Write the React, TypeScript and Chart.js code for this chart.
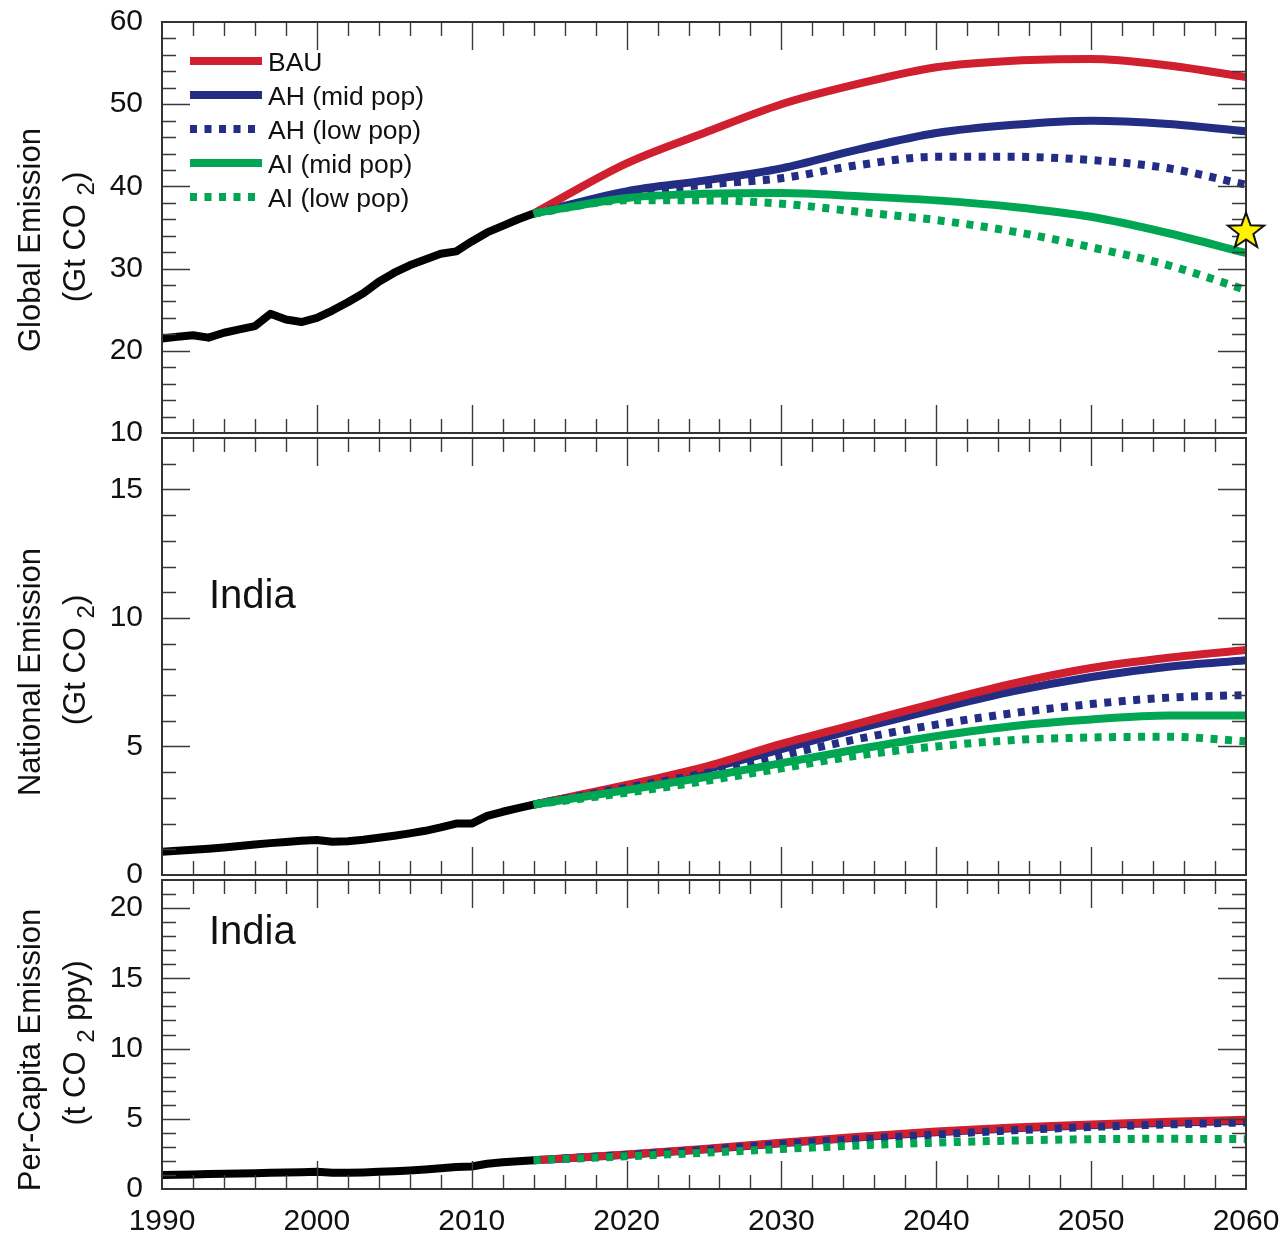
import React, { useEffect, useRef } from "react";
import { Chart, registerables } from "chart.js";
Chart.register(...registerables);

const FONT = '"Liberation Sans", Arial, Helvetica, sans-serif';

// ---------- DATA ----------
const histYears = [1990, 1991, 1992, 1993, 1994, 1995, 1996, 1997, 1998, 1999, 2000, 2001, 2002, 2003, 2004, 2005, 2006, 2007, 2008, 2009, 2010, 2011, 2012, 2013, 2014];
const globalHist = [21.5, 21.7, 21.9, 21.6, 22.2, 22.6, 23.0, 24.5, 23.8, 23.5, 24.0, 24.9, 25.9, 27.0, 28.4, 29.5, 30.4, 31.1, 31.8, 32.1, 33.3, 34.4, 35.2, 36.0, 36.7];
const indiaHist = [0.9, 0.94, 0.98, 1.02, 1.07, 1.13, 1.19, 1.24, 1.28, 1.33, 1.36, 1.29, 1.31, 1.37, 1.45, 1.53, 1.62, 1.72, 1.85, 2.0, 2.0, 2.3, 2.46, 2.6, 2.74];
const perCapHist = [1.0, 1.02, 1.04, 1.06, 1.08, 1.1, 1.13, 1.15, 1.17, 1.2, 1.22, 1.15, 1.15, 1.18, 1.22, 1.27, 1.32, 1.39, 1.47, 1.57, 1.6, 1.8, 1.9, 1.98, 2.05];

const projYears = [2014, 2020, 2025, 2030, 2035, 2040, 2045, 2050, 2055, 2060];

const globalBAU = [36.7, 42.8, 46.5, 50.0, 52.5, 54.5, 55.3, 55.5, 54.7, 53.3];
const globalAHmid = [36.7, 39.4, 40.7, 42.2, 44.5, 46.5, 47.5, 48.0, 47.6, 46.7];
const globalAHlow = [36.7, 39.1, 40.2, 41.0, 42.6, 43.6, 43.6, 43.2, 42.2, 40.2];
const globalAImid = [36.7, 38.6, 39.1, 39.2, 38.8, 38.3, 37.5, 36.3, 34.3, 31.9];
const globalAIlow = [36.7, 38.3, 38.3, 37.9, 36.9, 35.9, 34.5, 32.6, 30.4, 27.4];

const indiaBAU = [2.74, 3.5, 4.2, 5.1, 5.9, 6.7, 7.45, 8.05, 8.45, 8.75];
const indiaAHmid = [2.74, 3.45, 4.1, 4.9, 5.7, 6.45, 7.15, 7.7, 8.1, 8.35];
const indiaAHlow = [2.74, 3.4, 3.95, 4.65, 5.3, 5.85, 6.3, 6.65, 6.9, 7.0];
const indiaAImid = [2.74, 3.3, 3.8, 4.35, 4.9, 5.4, 5.8, 6.05, 6.2, 6.2];
const indiaAIlow = [2.74, 3.2, 3.65, 4.15, 4.65, 5.0, 5.25, 5.35, 5.38, 5.2];

// per-capita: the mid-pop curves are hidden under the low-pop / BAU curves in the picture
const perCapBAU = [2.05, 2.45, 2.85, 3.3, 3.72, 4.1, 4.38, 4.6, 4.78, 4.93];
const perCapAHmid = [2.05, 2.44, 2.82, 3.26, 3.67, 4.04, 4.32, 4.54, 4.71, 4.85];
const perCapAHlow = [2.05, 2.42, 2.78, 3.2, 3.55, 3.88, 4.18, 4.42, 4.6, 4.74];
const perCapAIlow = [2.05, 2.33, 2.58, 2.85, 3.1, 3.3, 3.45, 3.55, 3.57, 3.55];

const seriesNames = ["BAU", "AH (mid pop)", "AH (low pop)", "AI (mid pop)", "AI (low pop)"];
const seriesColors = ["#d01f2e", "#232d84", "#232d84", "#00a651", "#00a651"];
const seriesDashed = [false, false, true, false, true];
const seriesOrder = [5, 6, 4, 3, 2];

const xTicks = [1990, 2000, 2010, 2020, 2030, 2040, 2050, 2060];
const globalTicks = [10, 20, 30, 40, 50, 60];
const nationalTicks = [0, 5, 10, 15];
const perCapTicks = [0, 5, 10, 15, 20];

const starYear = 2060;
const starValue = 34.5;
const regionLabel = "India";

// ---------- LAYOUT ----------
const W = 1282;
const H = 1237;

type Part = { t: string; sub?: boolean };
type PanelCfg = {
  hist: number[];
  proj: (number[] | null)[];
  yMin: number;
  yMax: number;
  yTicks: number[];
  yMinor: number;
  yMajor: number;
  top: number;
  bottom: number;
  showX: boolean;
  legend: boolean;
  region: boolean;
  regionY: number;
  star: boolean;
  title1: string;
  title2: Part[];
  t1y: number;
  t2y: number;
};

const panels: PanelCfg[] = [
  {
    hist: globalHist,
    proj: [globalBAU, globalAHmid, globalAHlow, globalAImid, globalAIlow],
    yMin: 10, yMax: 60, yTicks: globalTicks, yMinor: 2, yMajor: 10,
    top: 22, bottom: 433, showX: false, legend: true, region: false, regionY: 0, star: true,
    title1: "Global Emission",
    title2: [{ t: "(Gt CO " }, { t: "2", sub: true }, { t: ")" }],
    t1y: 240, t2y: 237,
  },
  {
    hist: indiaHist,
    proj: [indiaBAU, indiaAHmid, indiaAHlow, indiaAImid, indiaAIlow],
    yMin: 0, yMax: 17, yTicks: nationalTicks, yMinor: 1, yMajor: 5,
    top: 438, bottom: 875, showX: false, legend: false, region: true, regionY: 608, star: false,
    title1: "National Emission",
    title2: [{ t: "(Gt CO " }, { t: "2", sub: true }, { t: ")" }],
    t1y: 672, t2y: 660,
  },
  {
    hist: perCapHist,
    proj: [perCapBAU, perCapAHmid, perCapAHlow, null, perCapAIlow],
    yMin: 0, yMax: 22, yTicks: perCapTicks, yMinor: 1, yMajor: 5,
    top: 880, bottom: 1189, showX: true, legend: false, region: true, regionY: 944, star: false,
    title1: "Per-Capita Emission",
    title2: [{ t: "(t CO " }, { t: "2", sub: true }, { t: " ppy)" }],
    t1y: 1050, t2y: 1043,
  },
];

function drawStar(ctx: CanvasRenderingContext2D, cx: number, cy: number, ro: number, ri: number) {
  ctx.beginPath();
  for (let i = 0; i < 10; i++) {
    const r = i % 2 === 0 ? ro : ri;
    const a = -Math.PI / 2 + (i * Math.PI) / 5;
    const px = cx + r * Math.cos(a);
    const py = cy + r * Math.sin(a);
    if (i === 0) ctx.moveTo(px, py);
    else ctx.lineTo(px, py);
  }
  ctx.closePath();
}

function makePlugin(cfg: PanelCfg) {
  return {
    id: "decor",
    afterDatasetsDraw(chart: any) {
      const { ctx, chartArea: a, scales } = chart;
      const x = scales.x;
      const y = scales.y;
      ctx.save();
      // ticks
      ctx.strokeStyle = "#3a3a3a";
      ctx.lineWidth = 1.4;
      ctx.beginPath();
      for (let yr = 1992; yr < 2060; yr += 2) {
        const px = Math.round(x.getPixelForValue(yr)) + 0.5;
        const len = yr % 10 === 0 ? 28 : 14;
        ctx.moveTo(px, a.top);
        ctx.lineTo(px, a.top + len);
        ctx.moveTo(px, a.bottom);
        ctx.lineTo(px, a.bottom - len);
      }
      for (let v = cfg.yMin + cfg.yMinor; v < cfg.yMax - 1e-9; v += cfg.yMinor) {
        const py = Math.round(y.getPixelForValue(v)) + 0.5;
        const len = Math.abs(v % cfg.yMajor) < 1e-9 ? 28 : 14;
        ctx.moveTo(a.left, py);
        ctx.lineTo(a.left + len, py);
        ctx.moveTo(a.right, py);
        ctx.lineTo(a.right - len, py);
      }
      ctx.stroke();
      // frame
      ctx.strokeStyle = "#333";
      ctx.lineWidth = 2;
      ctx.strokeRect(a.left, a.top, a.right - a.left, a.bottom - a.top);

      // star
      if (cfg.star) {
        const sx = x.getPixelForValue(starYear);
        const sy = y.getPixelForValue(starValue);
        drawStar(ctx, sx, sy, 19, 7.8);
        ctx.fillStyle = "#fff200";
        ctx.fill();
        ctx.lineWidth = 2;
        ctx.strokeStyle = "#111";
        ctx.lineJoin = "miter";
        ctx.stroke();
      }

      // legend
      if (cfg.legend) {
        for (let i = 0; i < seriesNames.length; i++) {
          const ly = 61 + i * 34;
          ctx.beginPath();
          ctx.lineWidth = 8;
          ctx.lineCap = "butt";
          ctx.strokeStyle = seriesColors[i];
          ctx.setLineDash(seriesDashed[i] ? [7, 7.5] : []);
          ctx.moveTo(190, ly);
          ctx.lineTo(262, ly);
          ctx.stroke();
          ctx.setLineDash([]);
          ctx.fillStyle = "#111";
          ctx.font = `26.5px ${FONT}`;
          ctx.textAlign = "left";
          ctx.textBaseline = "alphabetic";
          ctx.fillText(seriesNames[i], 268, ly + 9.5);
        }
      }

      // region label
      if (cfg.region) {
        ctx.fillStyle = "#111";
        ctx.font = `40px ${FONT}`;
        ctx.textAlign = "left";
        ctx.textBaseline = "alphabetic";
        ctx.fillText(regionLabel, 209, cfg.regionY);
      }

      // axis titles
      ctx.fillStyle = "#111";
      ctx.textBaseline = "alphabetic";
      ctx.textAlign = "left";
      ctx.font = `31px ${FONT}`;
      const w1 = ctx.measureText(cfg.title1).width;
      ctx.save();
      ctx.translate(40, cfg.t1y);
      ctx.rotate(-Math.PI / 2);
      ctx.fillText(cfg.title1, -w1 / 2, 0);
      ctx.restore();

      const fonts = cfg.title2.map((p) => (p.sub ? `24px ${FONT}` : `31px ${FONT}`));
      const widths = cfg.title2.map((p, i) => {
        ctx.font = fonts[i];
        return ctx.measureText(p.t).width;
      });
      const total = widths.reduce((s, v) => s + v, 0);
      ctx.save();
      ctx.translate(85, cfg.t2y);
      ctx.rotate(-Math.PI / 2);
      let u = -total / 2;
      cfg.title2.forEach((p, i) => {
        ctx.font = fonts[i];
        ctx.fillText(p.t, u, p.sub ? 9 : 0);
        u += widths[i];
      });
      ctx.restore();

      ctx.restore();
    },
  };
}

function Panel({ cfg }: { cfg: PanelCfg }) {
  const ref = useRef<HTMLCanvasElement | null>(null);
  useEffect(() => {
    if (!ref.current) return;
    const datasets: any[] = [
      {
        label: "Historical",
        data: histYears.map((yr, i) => ({ x: yr, y: cfg.hist[i] })),
        borderColor: "#000",
        borderWidth: 8,
        borderJoinStyle: "round",
        borderCapStyle: "round",
        pointRadius: 0,
        tension: 0,
        order: 10,
      },
    ];
    cfg.proj.forEach((vals, s) => {
      if (!vals) return;
      datasets.push({
        label: seriesNames[s],
        data: projYears.map((yr, i) => ({ x: yr, y: vals[i] })),
        borderColor: seriesColors[s],
        borderWidth: 8,
        borderDash: seriesDashed[s] ? [7, 7.5] : [],
        borderCapStyle: "butt",
        borderJoinStyle: "round",
        pointRadius: 0,
        cubicInterpolationMode: "monotone",
        order: seriesOrder[s],
      });
    });

    const chart = new Chart(ref.current, {
      type: "line",
      data: { datasets },
      plugins: [makePlugin(cfg)],
      options: {
        animation: false,
        responsive: false,
        maintainAspectRatio: false,
        devicePixelRatio: 1,
        events: [],
        layout: {
          padding: {
            top: cfg.top,
            bottom: cfg.showX ? 0 : H - cfg.bottom,
            left: 0,
            right: W - 1246,
          },
        },
        plugins: {
          legend: { display: false },
          tooltip: { enabled: false },
          title: { display: false },
        },
        scales: {
          x: {
            type: "linear",
            min: 1990,
            max: 2060,
            display: cfg.showX,
            grid: { display: false, drawTicks: false },
            border: { display: false },
            ticks: {
              font: { family: FONT, size: 30 },
              color: "#111",
              padding: 15,
              maxRotation: 0,
              autoSkip: false,
              callback: (v: any) => String(v),
            },
            afterBuildTicks: (s: any) => {
              s.ticks = xTicks.map((v) => ({ value: v }));
            },
            afterFit: (s: any) => {
              if (cfg.showX) s.height = H - cfg.bottom;
              s.paddingLeft = 0;
              s.paddingRight = 0;
              s.paddingTop = 0;
              s.paddingBottom = 0;
            },
          },
          y: {
            type: "linear",
            min: cfg.yMin,
            max: cfg.yMax,
            grid: { display: false, drawTicks: false },
            border: { display: false },
            ticks: {
              font: { family: FONT, size: 30 },
              color: "#111",
              padding: 19,
              autoSkip: false,
              callback: (v: any) => String(v),
            },
            afterBuildTicks: (s: any) => {
              s.ticks = cfg.yTicks.map((v) => ({ value: v }));
            },
            afterFit: (s: any) => {
              s.width = 162;
              s.paddingLeft = 0;
              s.paddingRight = 0;
              s.paddingTop = 0;
              s.paddingBottom = 0;
            },
          },
        },
      } as any,
    });
    return () => chart.destroy();
  }, [cfg]);
  return (
    <canvas
      ref={ref}
      width={W}
      height={H}
      style={{ position: "absolute", left: 0, top: 0, width: W, height: H }}
    />
  );
}

export default function App() {
  return (
    <div
      style={{
        position: "absolute",
        left: 0,
        top: 0,
        width: W,
        height: H,
        background: "#fff",
        overflow: "hidden",
      }}
    >
      {panels.map((p, i) => (
        <Panel key={i} cfg={p} />
      ))}
    </div>
  );
}
